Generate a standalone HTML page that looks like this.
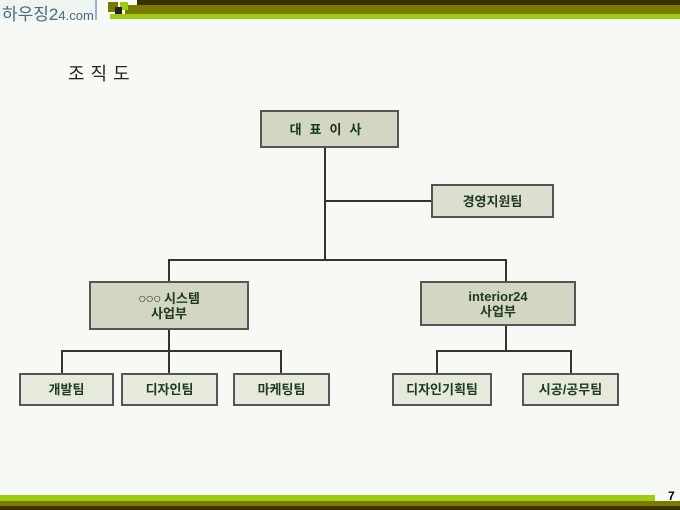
<!DOCTYPE html>
<html><head><meta charset="utf-8"><style>
body{margin:0;width:680px;height:510px;background:#f7f9f4;position:relative;overflow:hidden;font-family:"Liberation Sans","Noto Sans CJK KR",sans-serif}
.a{position:absolute}
.b{position:absolute;box-sizing:border-box;border:2px solid #555;display:flex;align-items:center;justify-content:center;text-align:center;font-weight:bold;font-size:13px;color:#1e3a1e;line-height:15px}
.m{background:#d2d6c2}
.l{background:#e6eadc}
.h{position:absolute;background:#333;height:2px}
.v{position:absolute;background:#333;width:2px}
</style></head><body>
<div class="a" style="left:137px;top:0;width:543px;height:5px;background:#3a3300"></div>
<div class="a" style="left:125px;top:5px;width:555px;height:9px;background:#7a7a00"></div>
<div class="a" style="left:110px;top:14px;width:570px;height:5px;background:#9ccc10"></div>
<div class="a" style="left:108px;top:2px;width:10px;height:10px;background:#7a7a00"></div>
<div class="a" style="left:120px;top:2px;width:8px;height:8px;background:#9ccc10"></div>
<div class="a" style="left:115px;top:7px;width:7px;height:7px;background:#222"></div>
<div class="a" style="left:0;top:0;width:95px;height:20px;background:#eef4f0;border-right:2px solid #aad"></div>
<div class="a" style="left:2px;top:0;font-size:17px;color:#4a6a78;white-space:nowrap">하우징2<span style="font-size:13px">4.com</span></div>
<div class="a" style="left:0;top:495px;width:655px;height:6px;background:#9ccc10"></div>
<div class="a" style="left:0;top:501px;width:680px;height:5px;background:#7a7a00"></div>
<div class="a" style="left:0;top:506px;width:680px;height:4px;background:#3a3300"></div>
<div class="a" style="left:668px;top:489px;font-size:12px;font-weight:bold;color:#000">7</div>
<div class="a" style="left:68px;top:60px;font-size:18px;letter-spacing:6px;color:#222">조직도</div>

<div class="v" style="left:324px;top:147px;height:114px"></div>
<div class="h" style="left:324px;top:200px;width:107px"></div>
<div class="h" style="left:168px;top:259px;width:339px"></div>
<div class="v" style="left:168px;top:259px;height:22px"></div>
<div class="v" style="left:505px;top:259px;height:22px"></div>
<div class="v" style="left:168px;top:329px;height:22px"></div>
<div class="h" style="left:61px;top:350px;width:221px"></div>
<div class="v" style="left:61px;top:350px;height:23px"></div>
<div class="v" style="left:168px;top:350px;height:23px"></div>
<div class="v" style="left:280px;top:350px;height:23px"></div>
<div class="v" style="left:505px;top:325px;height:26px"></div>
<div class="h" style="left:436px;top:350px;width:136px"></div>
<div class="v" style="left:436px;top:350px;height:23px"></div>
<div class="v" style="left:570px;top:350px;height:23px"></div>

<div class="b m" style="left:260px;top:110px;width:139px;height:38px;letter-spacing:8px;color:#123a12">대표이사</div>
<div class="b l" style="left:431px;top:184px;width:123px;height:34px;background:#dcdfd0">경영지원팀</div>
<div class="b m" style="left:89px;top:281px;width:160px;height:49px"><span><span style="font-weight:normal;font-size:14px;letter-spacing:-1px">○○○</span> 시스템<br>사업부</span></div>
<div class="b m" style="left:420px;top:281px;width:156px;height:45px">interior24<br>사업부</div>
<div class="b l" style="left:19px;top:373px;width:95px;height:33px">개발팀</div>
<div class="b l" style="left:121px;top:373px;width:97px;height:33px">디자인팀</div>
<div class="b l" style="left:233px;top:373px;width:97px;height:33px">마케팅팀</div>
<div class="b l" style="left:392px;top:373px;width:100px;height:33px">디자인기획팀</div>
<div class="b l" style="left:522px;top:373px;width:97px;height:33px">시공/공무팀</div>
</body></html>
